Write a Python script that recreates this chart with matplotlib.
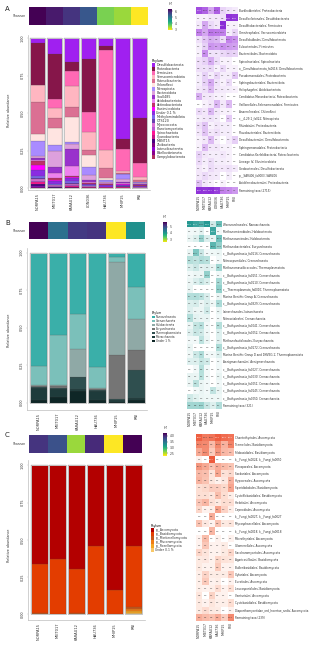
import matplotlib
matplotlib.use("Agg")
import matplotlib.pyplot as plt
import numpy as np
from matplotlib.colors import LinearSegmentedColormap, Normalize, PowerNorm
from matplotlib.cm import ScalarMappable
from matplotlib.patches import Patch

W, H = 320, 645

# ---------------- panel A (bacteria) ----------------
a_samples = ["NORPA15", "MIET017", "KARAU12", "LON036", "HAU736", "MHIP15", "RNI"]
a_shannon = [6.4, 6.15, 5.88, 5.45, 3.6, 3.42, 2.9]
a_phyla = ["Desulfobacterota", "Proteobacteria", "Firmicutes", "Verrucomicrobiota",
           "Patescibacteria", "Chloroflexi", "Nitrospirota", "Bacteroidota", "Sva0485",
           "Acidobacteriota", "Actinobacteriota", "Elusimicrobiota", "Under 0.1 %",
           "Methylomirabilota", "OTS120", "Myxococcota", "Planctomycetota",
           "Spirochaetota", "Cyanobacteria", "MBNT15", "Zixibacteria",
           "Latescibacterota", "Bdellovibrionota", "Campylobacterota"]
a_colors = ["#A020F0", "#86164A", "#FF69B4", "#FFB6C1", "#DB7093", "#FFE4E1",
            "#A98BFF", "#DDA0DD", "#9932CC", "#EE82EE", "#C0306A", "#FF00FF",
            "#8A2BE2", "#7B68EE", "#6A3FB0", "#DA70D6", "#BA55D3", "#FF1493",
            "#C71585", "#4B0082", "#800080", "#9400D3", "#8B008B", "#B03060"]
# relative abundance per sample, in a_phyla order
a_bars = [
    [0.030, 0.280, 0.000, 0.114, 0.218, 0.045, 0.100, 0.015, 0.010, 0.010, 0.025, 0.035,
     0.038, 0.012, 0.008, 0.012, 0.008, 0.012, 0.004, 0.008, 0.004, 0.006, 0.003, 0.003],
    [0.107, 0.302, 0.058, 0.068, 0.067, 0.111, 0.040, 0.105, 0.040, 0.035, 0.012, 0.005,
     0.024, 0.004, 0.003, 0.005, 0.004, 0.003, 0.002, 0.002, 0.001, 0.001, 0.001, 0.000],
    [0.158, 0.062, 0.100, 0.138, 0.071, 0.162, 0.016, 0.035, 0.109, 0.067, 0.010, 0.008,
     0.020, 0.008, 0.006, 0.010, 0.006, 0.004, 0.002, 0.004, 0.002, 0.001, 0.001, 0.000],
    [0.142, 0.349, 0.134, 0.122, 0.033, 0.078, 0.055, 0.034, 0.010, 0.008, 0.006, 0.004,
     0.008, 0.004, 0.002, 0.003, 0.002, 0.002, 0.001, 0.001, 0.001, 0.000, 0.001, 0.000],
    [0.051, 0.029, 0.667, 0.122, 0.062, 0.016, 0.010, 0.008, 0.004, 0.004, 0.006, 0.003,
     0.008, 0.002, 0.001, 0.002, 0.001, 0.001, 0.001, 0.001, 0.000, 0.000, 0.000, 0.001],
    [0.675, 0.065, 0.147, 0.013, 0.005, 0.004, 0.031, 0.020, 0.004, 0.006, 0.004, 0.003,
     0.010, 0.002, 0.001, 0.003, 0.002, 0.002, 0.001, 0.001, 0.000, 0.000, 0.001, 0.000],
    [0.535, 0.296, 0.098, 0.016, 0.012, 0.004, 0.006, 0.008, 0.004, 0.004, 0.003, 0.002,
     0.006, 0.001, 0.001, 0.001, 0.001, 0.001, 0.000, 0.001, 0.000, 0.000, 0.000, 0.000],
]
a_taxa = ["Burkholderiales; Proteobacteria", "Desulfovibrionales; Desulfobacterota",
          "Desulfitobacteriales; Firmicutes", "Omnitrophales; Verrucomicrobiota",
          "Desulfobulbales; Desulfobacterota", "Eubacteriales; Firmicutes",
          "Bacteroidales; Bacteroidota", "Spirochaetales; Spirochaetota",
          "o__Desulfobacterota_fa0616; Desulfobacterota", "Pseudomonadales; Proteobacteria",
          "Sphingobacteriales; Bacteroidota", "Holophagales; Acidobacteriota",
          "Candidatus Moranbacteria; Patescibacteria",
          "Veillonellales-Selenomonadales; Firmicutes", "Anaerolineales; Chloroflexi",
          "c__4-29-1_fa022; Nitrospirota", "Rhizobiales; Proteobacteria",
          "Flavobacteriales; Bacteroidota", "Desulfobacterales; Desulfobacterota",
          "Sphingomonadales; Proteobacteria", "Candidatus Kerfeldbacteria; Patescibacteria",
          "Lineage IV; Elusimicrobiota", "Geobacterales; Desulfobacterota",
          "p__SAR406_fa0003; SAR406", "Acidiferrobacterales; Proteobacteria",
          "Remaining taxa (2715)"]
a_heat = [
    [27.3, 19.3, 5.4, 20.1, 1.6, 0.6, 0.3],
    [0.1, 0.1, 0.4, 0.4, 0.8, 40.5, 36.8],
    [0.3, 5.4, 1.3, 0.4, 48.6, 0.1, 0.1],
    [10.6, 5.4, 12.9, 12.1, 11.2, 0.2, 1.6],
    [0.7, 2.6, 4.6, 3.8, 1.0, 10.6, 8.0],
    [0.2, 1.8, 7.7, 6.4, 8.7, 6.9, 6.0],
    [0.1, 8.6, 0.6, 0.6, 1.4, 1.9, 1.6],
    [0.8, 1.7, 4.8, 0.9, 0.1, 0.1, 0.0],
    [0.8, 0.7, 1.4, 0.1, 1.3, 0.1, 0.1],
    [0.2, 1.8, 0.2, 1.6, 0.2, 0.2, 2.4],
    [0.2, 1.8, 5.2, 0.6, 0.1, 1.1, 0.0],
    [0.4, 0.9, 3.4, 0.4, 0.3, 0.2, 0.1],
    [4.4, 0.4, 0.4, 0.1, 0.1, 0.0, 0.0],
    [0.0, 0.1, 0.4, 3.8, 0.4, 3.4, 0.0],
    [1.2, 0.4, 3.7, 0.4, 0.1, 0.1, 0.0],
    [0.2, 0.4, 0.6, 0.2, 0.0, 2.1, 0.0],
    [0.8, 2.8, 0.1, 0.4, 0.2, 0.2, 0.0],
    [0.4, 2.7, 0.4, 0.8, 0.2, 0.2, 0.0],
    [0.1, 0.4, 3.4, 0.1, 0.0, 0.3, 1.9],
    [0.1, 3.4, 0.4, 0.4, 0.1, 0.1, 0.0],
    [1.7, 0.4, 0.2, 0.2, 0.4, 0.1, 0.0],
    [1.2, 0.2, 1.0, 0.2, 0.2, 0.1, 0.0],
    [0.4, 0.1, 1.1, 0.4, 0.4, 0.7, 0.3],
    [0.4, 1.3, 0.4, 0.3, 0.0, 0.2, 0.0],
    [2.9, 0.4, 0.1, 0.0, 0.1, 0.0, 0.0],
    [40.0, 38.6, 41.7, 33.7, 11.0, 9.6, 7.1],
]

# ---------------- panel B (archaea) ----------------
b_samples = ["NORPA15", "MIET017", "KARAU12", "HAU736", "MHIP15", "RNI"]
b_shannon = [5.7, 4.52, 5.16, 5.22, 2.5, 4.1]
b_phyla = ["Nanoarchaeota", "Crenarchaeota", "Halobacterota", "Euryarchaeota",
           "Thermoplasmatota", "Micrarchaeota", "Under 1 %"]
b_colors = ["#3AAFA9", "#7BC0BA", "#8FA9A6", "#757575", "#2F4F4F", "#1E3B3B", "#0E2626"]
b_bars = [
    [0.754, 0.127, 0.010, 0.005, 0.004, 0.080, 0.020],
    [0.547, 0.334, 0.010, 0.010, 0.010, 0.050, 0.039],
    [0.413, 0.229, 0.186, 0.005, 0.080, 0.009, 0.078],
    [0.765, 0.138, 0.010, 0.002, 0.005, 0.060, 0.020],
    [0.027, 0.037, 0.618, 0.295, 0.008, 0.010, 0.005],
    [0.228, 0.217, 0.208, 0.130, 0.190, 0.010, 0.017],
]
b_taxa = ["Woesearchaeales; Nanoarchaeota", "Methanomicrobiales; Halobacterota",
          "Methanosarcinales; Halobacterota", "Methanobacteriales; Euryarchaeota",
          "c__Bathyarchaeia_fa0116; Crenarchaeota", "Nitrosopumilales; Crenarchaeota",
          "Methanomassiliicoccales; Thermoplasmatota",
          "c__Bathyarchaeia_fa0151; Crenarchaeota", "c__Bathyarchaeia_fa0110; Crenarchaeota",
          "c__Thermoplasmata_fa0010; Thermoplasmatota",
          "Marine Benthic Group A; Crenarchaeota", "c__Bathyarchaeia_fa0329; Crenarchaeota",
          "Iainarchaeales; Iainarchaeota", "Nitrosotaleales; Crenarchaeota",
          "c__Bathyarchaeia_fa0041; Crenarchaeota", "c__Bathyarchaeia_fa0052; Crenarchaeota",
          "Methanofastidiosales; Euryarchaeota", "c__Bathyarchaeia_fa0172; Crenarchaeota",
          "Marine Benthic Group D and DHVEG-1; Thermoplasmatota",
          "Aenigmarchaeales; Aenigmarchaeota", "c__Bathyarchaeia_fa0027; Crenarchaeota",
          "c__Bathyarchaeia_fa0030; Crenarchaeota", "c__Bathyarchaeia_fa0051; Crenarchaeota",
          "c__Bathyarchaeia_fa0145; Crenarchaeota", "c__Bathyarchaeia_fa0050; Crenarchaeota",
          "Remaining taxa (321)"]
b_heat = [
    [73.1, 52.7, 37.9, 71.3, 2.6, 22.6],
    [0.1, 0.2, 0.8, 0.0, 51.5, 0.1],
    [0.4, 1.5, 10.2, 1.6, 0.4, 20.1],
    [0.0, 0.0, 0.0, 0.0, 30.0, 11.3],
    [0.4, 16.2, 3.2, 0.1, 0.2, 0.3],
    [5.6, 4.3, 6.3, 5.2, 0.0, 0.1],
    [1.4, 3.2, 0.8, 1.2, 0.4, 8.5],
    [0.1, 0.3, 0.3, 11.3, 0.0, 0.1],
    [0.3, 1.6, 3.4, 1.4, 0.0, 7.6],
    [0.4, 0.0, 0.0, 0.0, 0.0, 11.4],
    [5.7, 6.1, 4.8, 1.6, 0.0, 0.4],
    [1.4, 2.2, 0.3, 1.4, 0.2, 7.1],
    [1.2, 0.3, 0.3, 2.8, 0.0, 0.4],
    [5.8, 0.7, 0.4, 0.4, 0.0, 0.1],
    [0.3, 3.8, 5.4, 0.1, 0.0, 5.5],
    [1.1, 3.4, 2.7, 0.2, 0.0, 1.2],
    [0.1, 0.1, 4.6, 0.3, 0.0, 1.0],
    [0.4, 0.0, 0.0, 0.0, 0.0, 6.9],
    [0.2, 3.1, 6.4, 0.1, 0.1, 1.2],
    [1.2, 1.3, 3.6, 2.6, 0.0, 0.1],
    [0.0, 0.1, 5.5, 0.1, 0.0, 0.1],
    [0.5, 0.4, 5.2, 0.1, 0.0, 0.4],
    [0.3, 4.8, 0.4, 0.1, 0.0, 0.1],
    [0.0, 0.1, 0.4, 0.1, 4.2, 0.4],
    [2.8, 0.9, 0.3, 0.2, 0.2, 0.2],
    [8.6, 8.6, 10.0, 3.4, 1.3, 6.1],
]

# ---------------- panel C (fungi) ----------------
c_samples = ["NORPA15", "MIET017", "KARAU12", "HAU736", "MHIP15", "RNI"]
c_shannon = [3.94, 3.75, 2.58, 4.0, 2.29, 4.23]
c_phyla = ["p__Ascomycota", "p__Basidiomycota", "p__Mortierellomycota",
           "p__Mucoromycota", "p__Rozellomycota", "Under 0.1 %"]
c_colors = ["#B30000", "#E33D00", "#C8561A", "#F07D14", "#F5A623", "#F9C868"]
c_bars = [
    [0.665, 0.328, 0.003, 0.001, 0.001, 0.002],
    [0.625, 0.370, 0.002, 0.001, 0.001, 0.001],
    [0.692, 0.297, 0.008, 0.001, 0.001, 0.001],
    [0.543, 0.452, 0.002, 0.001, 0.001, 0.001],
    [0.837, 0.160, 0.001, 0.001, 0.000, 0.001],
    [0.540, 0.409, 0.014, 0.013, 0.012, 0.012],
]
c_taxa = ["Chaetothyriales; Ascomycota", "Tremellales; Basidiomycota",
          "Filobasidiales; Basidiomycota", "k__Fungi_fa0024; k__Fungi_fa0050",
          "Pleosporales; Ascomycota", "Sordariales; Ascomycota", "Hypocreales; Ascomycota",
          "Sporidiobolales; Basidiomycota", "Cystofilobasidiales; Basidiomycota",
          "Helotiales; Ascomycota", "Capnodiales; Ascomycota",
          "k__Fungi_fa0027; k__Fungi_fa0027", "Mycosphaerellales; Ascomycota",
          "k__Fungi_fa0018; k__Fungi_fa0018", "Microthyriales; Ascomycota",
          "Glomerellales; Ascomycota", "Saccharomycetales; Ascomycota",
          "Agaricostilbales; Basidiomycota", "Bulleribasidiales; Basidiomycota",
          "Xylariales; Ascomycota", "Eurotiales; Ascomycota",
          "Leucosporidiales; Basidiomycota", "Venturiales; Ascomycota",
          "Cystobasidiales; Basidiomycota",
          "Diaporthomycetidae_ord_Incertae_sedis; Ascomycota", "Remaining taxa (239)"]
c_heat = [
    [40.5, 21.4, 25.5, 41.4, 30.4, 26.1],
    [16.7, 14.5, 4.6, 15.8, 5.8, 17.5],
    [7.3, 13.0, 2.7, 10.6, 4.9, 4.0],
    [0.1, 0.0, 46.7, 0.0, 0.0, 0.0],
    [10.4, 7.3, 3.6, 6.7, 4.4, 3.3],
    [4.7, 4.0, 0.7, 7.6, 0.9, 1.5],
    [5.5, 3.6, 0.6, 0.1, 0.5, 5.7],
    [1.1, 1.6, 2.6, 2.6, 1.6, 7.7],
    [1.1, 1.1, 0.6, 4.1, 1.2, 0.2],
    [3.2, 5.1, 1.0, 0.4, 1.2, 1.1],
    [1.7, 0.1, 0.2, 8.3, 2.0, 0.2],
    [0.0, 0.0, 6.6, 0.0, 0.0, 0.0],
    [3.4, 0.5, 0.1, 3.6, 0.4, 0.6],
    [0.0, 0.0, 5.1, 0.0, 0.0, 0.0],
    [0.1, 4.3, 0.0, 0.1, 0.0, 0.1],
    [0.1, 3.2, 0.1, 0.1, 0.3, 0.0],
    [1.8, 0.7, 0.1, 0.1, 0.4, 1.8],
    [0.4, 0.5, 0.1, 1.8, 0.8, 0.6],
    [0.4, 0.1, 0.1, 2.8, 0.1, 0.1],
    [0.2, 1.9, 0.3, 0.3, 0.3, 3.0],
    [0.2, 2.8, 0.1, 0.2, 0.0, 0.1],
    [0.2, 0.1, 0.2, 1.3, 0.1, 1.1],
    [0.6, 0.0, 2.1, 0.1, 0.1, 0.0],
    [0.4, 0.1, 0.6, 0.2, 0.2, 1.2],
    [0.4, 1.3, 0.4, 0.3, 0.0, 0.1],
    [6.3, 4.5, 3.6, 6.6, 2.5, 14.4],
]


def box(x0, y0, x1, y1):
    """pixel box (top-left origin) -> figure fraction rect"""
    return [x0 / W, 1 - y1 / H, (x1 - x0) / W, (y1 - y0) / H]


def fx(x):
    return x / W


def fy(y):
    return 1 - y / H


GRID = "#BDBDBD"
TXT = "#333333"


def draw_panel(fig, g, samples, shannon, sh_lim, sh_ticks, phyla, colors, bars,
               taxa, heat, heat_cmap, heat_max):
    n = len(samples)
    fig.text(fx(g["lab"][0]), fy(g["lab"][1]), g["letter"], fontsize=5, va="center",
             ha="left", color="#222222")

    # Shannon strip
    ax_s = fig.add_axes(box(*g["strip"]))
    ax_s.imshow(np.array(shannon)[None, :], cmap="viridis_r",
                norm=Normalize(*sh_lim), aspect="auto")
    ax_s.set_xticks([]); ax_s.set_yticks([])
    for sp in ax_s.spines.values():
        sp.set_visible(False)
    fig.text(fx(g["strip"][0] - 3), fy((g["strip"][1] + g["strip"][3]) / 2), "Shannon",
             fontsize=2.2, ha="right", va="center", color=TXT)

    # stacked bars
    ax = fig.add_axes(box(*g["bar"]))
    x = np.arange(n)
    vals = np.array(bars)
    bottom = np.zeros(n)
    for j in reversed(range(len(phyla))):
        ax.bar(x, vals[:, j], 0.9, bottom=bottom, color=colors[j], edgecolor="#4a4a4a",
               linewidth=0.12)
        bottom += vals[:, j]
    ax.bar(x, vals.sum(axis=1), 0.9, fill=False, edgecolor="#C4C4C4", linewidth=0.7)
    ax.set_xlim(g["xlim"]); ax.set_ylim(g["ylim"])
    ax.set_yticks([0, 0.25, 0.5, 0.75, 1.0])
    ax.set_yticklabels(["0.00", "0.25", "0.50", "0.75", "1.00"], rotation=90,
                       va="center", fontsize=2.4, color=TXT)
    ax.set_xticks(x)
    ax.set_xticklabels(samples, rotation=90, fontsize=2.6, color=TXT)
    ax.tick_params(length=1, width=0.3, color=GRID, pad=1)
    for s in ["top", "right"]:
        ax.spines[s].set_visible(False)
    for s in ["left", "bottom"]:
        ax.spines[s].set_color(GRID)
        ax.spines[s].set_linewidth(0.5)
    fig.text(fx(9), fy(g["ylab"]), "Relative abundance", rotation=90, fontsize=2.4,
             ha="center", va="center", color=TXT)

    # phylum legend
    handles = [Patch(facecolor=c, edgecolor="none") for c in colors]
    leg = fig.legend(handles, phyla, loc="upper left",
                     bbox_to_anchor=(fx(g["leg"][0]), fy(g["leg"][1])),
                     fontsize=g["legfs"], title="Phylum", title_fontsize=g["legfs"],
                     frameon=False, handlelength=1.0, handleheight=g["hh"],
                     labelspacing=0.0, handletextpad=0.4, borderpad=0, borderaxespad=0)
    leg._legend_box.align = "left"
    for t in leg.get_texts():
        t.set_color(TXT)

    # colorbar
    cax = fig.add_axes(box(*g["cbar"]))
    sm = ScalarMappable(norm=Normalize(*sh_lim), cmap="viridis_r")
    cb = fig.colorbar(sm, cax=cax, ticks=sh_ticks)
    cb.outline.set_visible(False)
    cb.ax.tick_params(labelsize=2.2, length=0.8, width=0.3, pad=1, colors=TXT)
    cb.ax.set_yticklabels([f"{t:g}" if isinstance(t, int) else f"{t:.1f}" for t in sh_ticks])
    fig.text(fx(g["cbar"][0]), fy(g["cbar"][1] - 3), "H'", fontsize=2.4, ha="left",
             va="bottom", color=TXT)

    # heatmap
    axh = fig.add_axes(box(*g["heat"]))
    hv = np.array(heat)
    norm = PowerNorm(0.4, vmin=0, vmax=heat_max)
    axh.imshow(hv, cmap=heat_cmap, norm=norm, aspect="auto", interpolation="nearest")
    for i in range(hv.shape[0]):
        for j in range(hv.shape[1]):
            v = hv[i, j]
            axh.text(j, i, f"{v:.1f}", ha="center", va="center", fontsize=1.5,
                     color="white" if norm(v) > 0.8 else "#3a3a3a")
    axh.set_xticks(range(n))
    axh.set_xticklabels(samples, rotation=90, fontsize=2.3, color=TXT)
    axh.yaxis.tick_right()
    axh.set_yticks(range(len(taxa)))
    axh.set_yticklabels(taxa, fontsize=1.95, color=TXT)
    axh.tick_params(length=0, pad=1)
    for sp in axh.spines.values():
        sp.set_visible(False)


fig = plt.figure(figsize=(W / 100, H / 100), dpi=100)
fig.patch.set_facecolor("white")

cm_a = LinearSegmentedColormap.from_list(
    "a", [(0, "#FFFFFF"), (0.25, "#EBD8F8"), (0.6, "#BE78EA"), (1, "#8A2BD6")])
cm_b = LinearSegmentedColormap.from_list(
    "b", [(0, "#FFFFFF"), (0.25, "#D4ECEA"), (0.6, "#6CC0BA"), (1, "#249891")])
cm_c = LinearSegmentedColormap.from_list(
    "c", [(0, "#FFFFFF"), (0.25, "#FDDCD0"), (0.6, "#F58E74"), (1, "#EE5A3C")])

geo_a = dict(letter="A", lab=(5, 9), strip=(29, 7, 148, 25),
             bar=(27.7, 35, 150, 190), xlim=(-0.568, 6.6), ylim=(-0.013, 1.02), ylab=110,
             leg=(152, 59), legfs=2.3, hh=1.28,
             cbar=(168.3, 9, 172.3, 30), heat=(196, 7.4, 237.3, 193.6))
geo_b = dict(letter="B", lab=(5, 223), strip=(29, 222.3, 145, 239.3),
             bar=(26.7, 248, 147, 410), xlim=(-0.60, 5.55), ylim=(-0.05, 1.03), ylab=330,
             leg=(152, 311), legfs=2.0, hh=1.15,
             cbar=(163, 222.3, 167, 242.3), heat=(186.7, 220.7, 221.7, 409))
geo_c = dict(letter="C", lab=(5, 435), strip=(29, 435, 141.7, 452.7),
             bar=(27.7, 460, 145, 620), xlim=(-0.60, 5.6), ylim=(-0.037, 1.035), ylab=545,
             leg=(151, 524), legfs=2.2, hh=1.35,
             cbar=(163.3, 433.3, 167.3, 455.7), heat=(196, 434.1, 233.3, 620.9))

draw_panel(fig, geo_a, a_samples, a_shannon, (2.9, 6.4), [3, 4, 5, 6], a_phyla, a_colors,
           a_bars, a_taxa, a_heat, cm_a, 45)
draw_panel(fig, geo_b, b_samples, b_shannon, (2.5, 5.7), [3, 4, 5], b_phyla, b_colors,
           b_bars, b_taxa, b_heat, cm_b, 75)
draw_panel(fig, geo_c, c_samples, c_shannon, (2.29, 4.23), [2.5, 3.0, 3.5, 4.0], c_phyla,
           c_colors, c_bars, c_taxa, c_heat, cm_c, 45)

fig.savefig("out.png", dpi=100)
